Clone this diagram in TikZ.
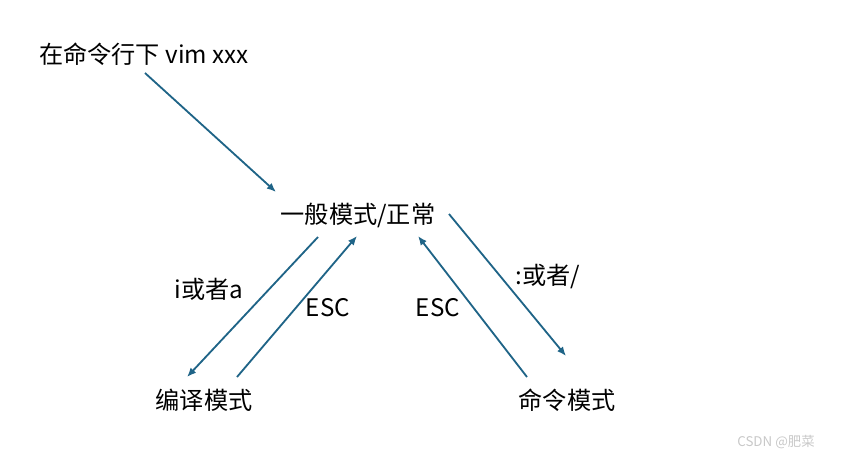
\documentclass[tikz,border=0pt]{standalone}
\usepackage{fontspec}
\usepackage{tikz}
\usepackage{xcolor}
\usetikzlibrary{arrows.meta,positioning,calc}
\setmainfont{Noto Sans CJK SC}
\definecolor{Teal}{HTML}{1F6487}
\definecolor{Mark}{HTML}{C8C8C8}

\begin{document}
\begin{tikzpicture}[
  txt/.style={font=\fontsize{17.2}{20}\selectfont,inner sep=1pt},
  arrow/.style={-{Latex[length=2.3mm,width=1.9mm]},line width=1.3pt,Teal}]
  \useasboundingbox (0,0) rectangle (21.05,-11.45);
  \node[txt] (vim) at (3.6,-1.35) {在命令行下 vim xxx};
  \node[txt] (normal) at (8.95,-5.375) {一般模式/正常};
  \node[txt] (edit) at (5.1,-10.0) {编译模式};
  \node[txt] (cmd) at (14.175,-10.0) {命令模式};

  \draw[arrow] ([shift={(0.025,-0.475)}]vim.center)--([shift={(-2.05,0.575)}]normal.center);
  \draw[arrow] ([shift={(-1.0,-0.55)}]normal.center)--([shift={(-0.425,0.575)}]edit.center);
  \draw[arrow] ([shift={(0.825,0.575)}]edit.center)--([shift={(-0.025,-0.525)}]normal.center);
  \draw[arrow] ([shift={(-1.0,0.575)}]cmd.center)--([shift={(1.5,-0.525)}]normal.center);
  \draw[arrow] ([shift={(2.275,0.025)}]normal.center)--([shift={(-0.025,1.1)}]cmd.center);

  \node[txt] (ia) at (5.225,-7.225) {i或者a};
  \node[txt] (escl) at (8.2,-7.7) {ESC};
  \node[txt] (escr) at (10.95,-7.7) {ESC};
  \node[txt] (colon) at (13.7,-6.9) {:或者/};

  \node[font=\fontsize{9.5}{11}\selectfont,text=Mark] (mark) at (19.4,-11.05) {CSDN @肥菜};
\end{tikzpicture}
\end{document}
